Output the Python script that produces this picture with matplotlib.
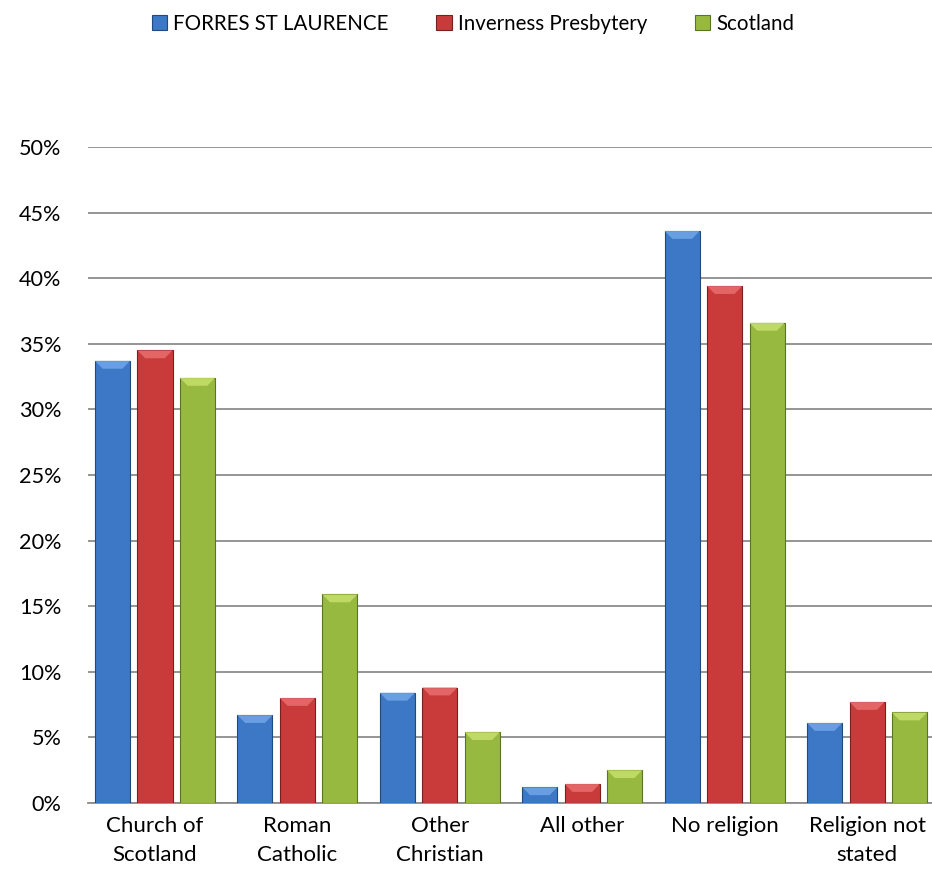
import matplotlib
matplotlib.use("Agg")
import matplotlib.pyplot as plt
from matplotlib.patches import Polygon
import numpy as np

categories = ["Church of\nScotland", "Roman\nCatholic", "Other\nChristian", "All other", "No religion", "Religion not\nstated"]
series_names = ["FORRES ST LAURENCE", "Inverness Presbytery", "Scotland"]
forres = [33.7, 6.7, 8.4, 1.2, 43.6, 6.1]
inverness = [34.5, 8.0, 8.8, 1.45, 39.4, 7.7]
scotland = [32.4, 15.9, 5.4, 2.5, 36.6, 6.9]
yticks = [0, 5, 10, 15, 20, 25, 30, 35, 40, 45, 50]

colors = ["#3c78c6", "#c93b3b", "#98b940"]
edges = ["#1f4a80", "#7a1f1f", "#5a7520"]
lights = ["#6ea3e6", "#e86a6a", "#c3dd6a"]

plt.rcParams['font.family'] = ['Lato', 'DejaVu Sans']
fig = plt.figure(figsize=(9.32, 8.75), dpi=100)
ax = fig.add_axes([88/932, (875-803)/875, (932-88)/932, (803-147)/875])

x = np.arange(len(categories))
step = 0.298
width = 0.246
for i, (vals, name) in enumerate(zip([forres, inverness, scotland], series_names)):
    bars = ax.bar(x + (i - 1) * step, [v / 100 for v in vals], width,
                  color=colors[i], edgecolor=edges[i], linewidth=0.8, label=name, zorder=3)
    for b in bars:
        bx, by = b.get_x(), b.get_y()
        bw, bh = b.get_width(), b.get_height()
        bev = min(0.006, bh / 2)
        inset = bw * 0.22
        top = Polygon([[bx, by + bh], [bx + bw, by + bh], [bx + bw - inset, by + bh - bev], [bx + inset, by + bh - bev]],
                      closed=True, facecolor=lights[i], edgecolor='none', zorder=4, alpha=0.9)
        ax.add_patch(top)

ax.set_ylim(0, 0.5)
ax.set_xlim(-0.4705, 5.456)
ax.set_yticks([t / 100 for t in yticks])
ax.set_yticklabels([f"{t}%" for t in yticks], fontsize=15.6)
ax.set_xticks(x)
ax.set_xticklabels(categories, fontsize=16, linespacing=1.6)
ax.tick_params(axis='both', length=0)
ax.tick_params(axis='x', pad=9)
ax.tick_params(axis='y', pad=19)
ax.grid(axis='y', color='#8c8c8c', linewidth=1.3, zorder=0)
for s in ['left', 'right', 'top']:
    ax.spines[s].set_visible(False)
ax.spines['bottom'].set_color('#8c8c8c')
ax.spines['bottom'].set_linewidth(1.3)

fig.legend(loc='center', bbox_to_anchor=(473/932, 1 - 24/875), ncol=3, frameon=False,
           fontsize=14.8, handlelength=0.75, handleheight=0.75, columnspacing=2.3, handletextpad=0.3)

fig.savefig("out.png", dpi=100)
